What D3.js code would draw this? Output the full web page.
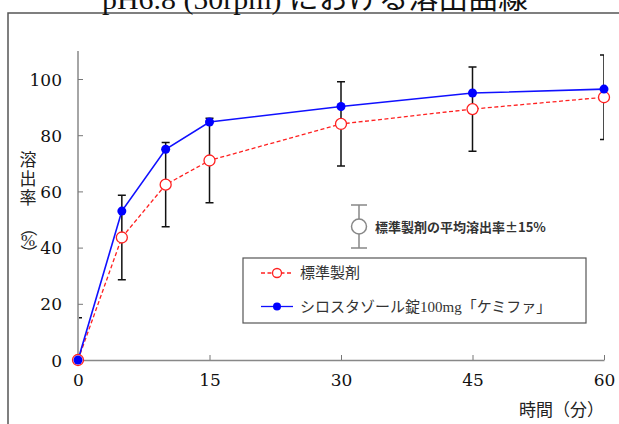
<!DOCTYPE html>
<html>
<head>
<meta charset="utf-8">
<script src="https://cdn.jsdelivr.net/npm/d3@7"></script>
<style>
  body { margin: 0; background: #fff; }
  svg { display: block; }
</style>
</head>
<body>
<div id="chart"></div>
<script>
// 溶出曲線 pH6.8 (50rpm)
const times = [0, 5, 10, 15, 30, 45, 60];
const refValues = [0, 43.6, 62.4, 71.0, 84.0, 89.3, 93.5];   // 標準製剤
const testValues = [0, 53.0, 75.0, 84.7, 90.2, 95.0, 96.4];  // シロスタゾール錠100mg「ケミファ」
const band = 15;
const xTicks = [0, 15, 30, 45, 60];
const yTicks = [0, 20, 40, 60, 80, 100];
const seriesNames = ['標準製剤', 'シロスタゾール錠100mg「ケミファ」'];

const width = 619, height = 424;
const serif = '"DejaVu Serif", "Liberation Serif", "Noto Sans CJK JP", serif';
const mincho = '"Liberation Serif", "Noto Sans CJK JP", serif';

const svg = d3.select('#chart')
  .append('svg')
  .attr('width', width)
  .attr('height', height);

// outer frame (only top/left visible)
svg.append('path')
  .attr('d', `M8,${height + 2}V13H${width + 2}`)
  .attr('fill', 'none')
  .attr('stroke', '#555')
  .attr('stroke-width', 1.5);

// title, mostly cut off at top
svg.append('text')
  .attr('x', 102)
  .attr('y', 9)
  .attr('textLength', 426)
  .attr('lengthAdjust', 'spacingAndGlyphs')
  .style('font-family', mincho)
  .style('font-size', '27px')
  .attr('fill', '#111')
  .text('pH6.8 (50rpm) における溶出曲線');

const x = d3.scaleLinear()
  .domain([0, 60])
  .range([78, 604]);
const y = d3.scaleLinear()
  .domain([0, 100])
  .range([360, 79]);

// axes
const xAxis = svg.append('g')
  .attr('transform', `translate(0,${y(0)})`)
  .call(d3.axisBottom(x).tickValues(xTicks).tickSize(-5).tickPadding(14).tickSizeOuter(0));
const yAxis = svg.append('g')
  .attr('transform', `translate(${x(0)},0)`)
  .call(d3.axisLeft(y).tickValues(yTicks).tickSize(-5).tickPadding(16).tickSizeOuter(0));
yAxis.select('.domain').attr('d', `M0,${y(0)}V${y(110)}`);

[xAxis, yAxis].forEach(g => {
  g.select('.domain').attr('stroke', '#888').attr('stroke-width', 1.5);
  g.selectAll('.tick line').attr('stroke', '#777');
  g.selectAll('.tick text')
    .attr('fill', '#111')
    .style('font-family', serif)
    .style('font-size', '17px');
});
xAxis.selectAll('.tick').filter(d => d === 0).select('line').remove();
yAxis.selectAll('.tick').filter(d => d === 0).select('line').remove();
yAxis.selectAll('.tick text').attr('dy', '0.36em');

// axis titles
svg.append('text')
  .attr('x', 604)
  .attr('y', 416)
  .attr('text-anchor', 'end')
  .style('font-family', mincho)
  .style('font-size', '17px')
  .attr('fill', '#222')
  .text('時間（分）');

// vertical y title: 溶出率（%）
const yt = svg.append('g')
  .style('font-family', mincho)
  .style('font-size', '17px')
  .attr('fill', '#222')
  .attr('text-anchor', 'middle');
['溶', '出', '率'].forEach((c, i) => {
  yt.append('text').attr('x', 28).attr('y', 166 + i * 19).text(c);
});
yt.append('text').attr('x', 28).attr('y', 246).text('%');
yt.append('text').attr('transform', 'translate(28,228) rotate(90)').attr('dy', '0.35em').text('（');
yt.append('text').attr('transform', 'translate(28,253) rotate(90)').attr('dy', '0.35em').text('）');

// clip to plot area (just right of the y axis line)
svg.append('clipPath').attr('id', 'plot-clip')
  .append('rect')
  .attr('x', x(0) + 1).attr('y', 0)
  .attr('width', x(60) - x(0) - 1).attr('height', y(0));

const data = times.map((t, i) => ({ t, ref: refValues[i], test: testValues[i] }));

// error bars: reference ±15%
const eb = svg.append('g').attr('clip-path', 'url(#plot-clip)');
const capW = 4;
eb.selectAll('path')
  .data(data)
  .join('path')
  .attr('d', d => {
    const cx = x(d.t), lo = y(d.ref - band), hi = y(d.ref + band);
    return `M${cx},${lo}V${hi}M${cx - capW},${hi}H${cx + capW}M${cx - capW},${lo}H${cx + capW}`;
  })
  .attr('fill', 'none')
  .attr('stroke', '#111')
  .attr('stroke-width', 1.5);

// lines
const line = key => d3.line().x(d => x(d.t)).y(d => y(d[key]));
svg.append('path')
  .datum(data)
  .attr('d', line('ref'))
  .attr('fill', 'none')
  .attr('stroke', '#ff2020')
  .attr('stroke-width', 1.3)
  .attr('stroke-dasharray', '4,2.5');
svg.append('path')
  .datum(data)
  .attr('d', line('test'))
  .attr('fill', 'none')
  .attr('stroke', '#1010ff')
  .attr('stroke-width', 1.6);

// markers
svg.append('g').selectAll('circle')
  .data(data)
  .join('circle')
  .attr('cx', d => x(d.t))
  .attr('cy', d => y(d.ref))
  .attr('r', 5.5)
  .attr('fill', '#fff')
  .attr('stroke', '#ff2020')
  .attr('stroke-width', 1.3);
svg.append('g').selectAll('circle')
  .data(data)
  .join('circle')
  .attr('cx', d => x(d.t))
  .attr('cy', d => y(d.test))
  .attr('r', 4.5)
  .attr('fill', '#0000ff');

// error bar legend
const eg = svg.append('g').attr('transform', 'translate(359,0)');
eg.append('path')
  .attr('d', 'M0,205V248M-8,205H8M-8,248H8')
  .attr('stroke', '#888')
  .attr('stroke-width', 1.5)
  .attr('fill', 'none');
eg.append('circle')
  .attr('cx', 0).attr('cy', 226.5).attr('r', 7.5)
  .attr('fill', '#fff')
  .attr('stroke', '#888')
  .attr('stroke-width', 1.5);
svg.append('text')
  .attr('x', 375)
  .attr('y', 232)
  .style('font-family', '"Noto Sans CJK JP", sans-serif')
  .style('font-size', '13px')
  .style('font-weight', 'bold')
  .attr('fill', '#333')
  .text('標準製剤の平均溶出率±15%');

// legend box
const lg = svg.append('g');
lg.append('rect')
  .attr('x', 243).attr('y', 258)
  .attr('width', 343).attr('height', 65)
  .attr('fill', '#fff')
  .attr('stroke', '#555')
  .attr('stroke-width', 1.2);

const legendRows = [
  { name: seriesNames[0], color: '#ff2020', dash: '4,2.5', open: true, yy: 273 },
  { name: seriesNames[1], color: '#1010ff', dash: null, open: false, yy: 306.5 }
];
legendRows.forEach(r => {
  lg.append('line')
    .attr('x1', 261).attr('x2', 293)
    .attr('y1', r.yy).attr('y2', r.yy)
    .attr('stroke', r.color)
    .attr('stroke-width', 1.3)
    .attr('stroke-dasharray', r.dash);
  lg.append('circle')
    .attr('cx', 277).attr('cy', r.yy)
    .attr('r', r.open ? 4.5 : 4)
    .attr('fill', r.open ? '#fff' : '#0000ff')
    .attr('stroke', r.open ? r.color : 'none')
    .attr('stroke-width', 1.3);
  lg.append('text')
    .attr('x', 300)
    .attr('y', r.yy + 5)
    .style('font-family', mincho)
    .style('font-size', '15px')
    .attr('fill', '#333')
    .text(r.name);
});
</script>
</body>
</html>
